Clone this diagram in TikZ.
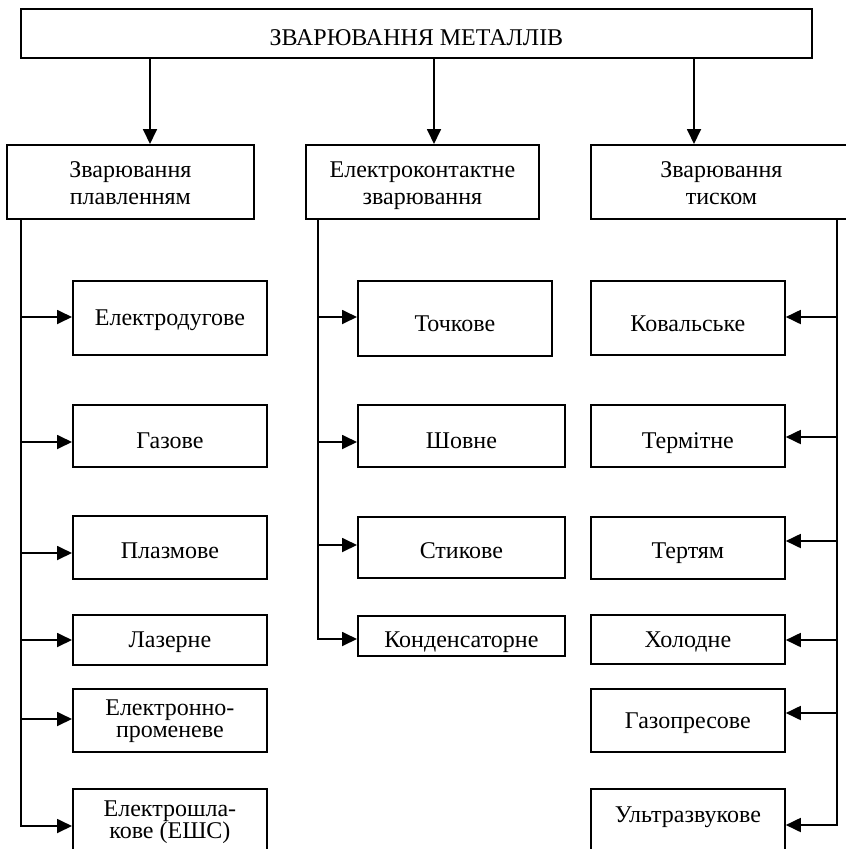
\documentclass[tikz,border=0pt]{standalone}
\usepackage{fontspec}
\setmainfont{Liberation Serif}
\usetikzlibrary{arrows.meta}
\newcommand{\twol}[3]{\vbox{\baselineskip=#1pt\lineskiplimit=-100pt\halign{\hfil##\hfil\cr#2\cr#3\cr}}}
\begin{document}
\begin{tikzpicture}[x=1pt,y=-1pt,
  bx/.style={draw, line width=1.8pt, inner xsep=2pt, inner ysep=0pt, anchor=north west,
             font=\fontsize{24}{28}\selectfont},
  ln/.style={line width=1.8pt},
  arr/.style={line width=1.8pt, -{Triangle[length=15pt,width=14pt]}}]
\useasboundingbox (0,0) rectangle (846,849);
\fill[white] (0,0) rectangle (846,849);
\clip (0,0) rectangle (846,849);

% title
\node[bx, font=\fontsize{24}{28}\selectfont, minimum width=791pt, text height=37pt, text depth=12pt] (top) at (20,8) {ЗВАРЮВАННЯ МЕТАЛЛІВ};

% level 2
\node[bx, minimum width=247pt, text height=60pt, text depth=14pt] (A) at (6,144) {\twol{27}{Зварювання}{плавленням}};
\node[bx, minimum width=233pt, text height=60pt, text depth=14pt] (B) at (305,144) {\twol{27}{Електроконтактне}{зварювання}};
\node[bx, minimum width=261pt, text height=60pt, text depth=14pt] (C) at (590,144) {\twol{27}{Зварювання}{тиском}};

% left column
\node[bx, minimum width=194pt, text height=45pt, text depth=29pt] (e1) at (72,280) {Електродугове};
\node[bx, minimum width=194pt, text height=44pt, text depth=18pt] (e2) at (72,404) {Газове};
\node[bx, minimum width=194pt, text height=43pt, text depth=20pt] (e3) at (72,515) {Плазмове};
\node[bx, minimum width=194pt, text height=33pt, text depth=17pt] (e4) at (72,614) {Лазерне};
\node[bx, minimum width=194pt, text height=49pt, text depth=14pt] (e5) at (72,688) {\twol{22}{Електронно-}{променеве}};
\node[bx, minimum width=194pt, text height=50pt, text depth=42pt] (e6) at (72,788) {\twol{22}{Електрошла-}{кове (ЕШС)}};

% middle column
\node[bx, minimum width=194pt, text height=51pt, text depth=24pt] (m1) at (357,280) {Точкове};
\node[bx, minimum width=207pt, text height=44pt, text depth=18pt] (m2) at (357,404) {Шовне};
\node[bx, minimum width=207pt, text height=42pt, text depth=19pt] (m3) at (357,516) {Стикове};
\node[bx, minimum width=207pt, text height=32pt, text depth=8pt] (m4) at (357,615) {Конденсаторне};

% right column
\node[bx, minimum width=194pt, text height=51pt, text depth=23pt] (r1) at (590,280) {Ковальське};
\node[bx, minimum width=194pt, text height=44pt, text depth=18pt] (r2) at (590,404) {Термітне};
\node[bx, minimum width=194pt, text height=42pt, text depth=20pt] (r3) at (590,516) {Тертям};
\node[bx, minimum width=194pt, text height=33pt, text depth=16pt] (r4) at (590,614) {Холодне};
\node[bx, minimum width=194pt, text height=40pt, text depth=23pt] (r5) at (590,688) {Газопресове};
\node[bx, minimum width=194pt, text height=34pt, text depth=58pt] (r6) at (590,788) {Ультразвукове};

% arrows from title
\coordinate (dA) at (150,0);
\coordinate (dB) at (434,0);
\coordinate (dC) at (694,0);
\draw[arr] (dA |- top.south) -- (dA |- A.north);
\draw[arr] (dB |- top.south) -- (dB |- B.north);
\draw[arr] (dC |- top.south) -- (dC |- C.north);

% left trunk
\foreach \n/\y in {e1/317,e2/442,e3/553,e4/640,e5/719,e6/826}
  \coordinate (j\n) at (21,\y);
\draw[arr, line join=miter] (je6 |- A.south) -- (je6) -- (je6 -| e6.west);
\foreach \n in {e1,e2,e3,e4,e5}
  \draw[arr] (j\n) -- (j\n -| \n.west);

% middle trunk
\foreach \n/\y in {m1/317,m2/442,m3/545,m4/639}
  \coordinate (j\n) at (318,\y);
\draw[arr, line join=miter] (jm4 |- B.south) -- (jm4) -- (jm4 -| m4.west);
\foreach \n in {m1,m2,m3}
  \draw[arr] (j\n) -- (j\n -| \n.west);

% right trunk
\foreach \n/\y in {r1/317,r2/437,r3/541,r4/640,r5/713,r6/825}
  \coordinate (j\n) at (837,\y);
\draw[arr, line join=miter] (jr6 |- C.south) -- (jr6) -- (jr6 -| r6.east);
\foreach \n in {r1,r2,r3,r4,r5}
  \draw[arr] (j\n) -- (j\n -| \n.east);
\end{tikzpicture}
\end{document}
